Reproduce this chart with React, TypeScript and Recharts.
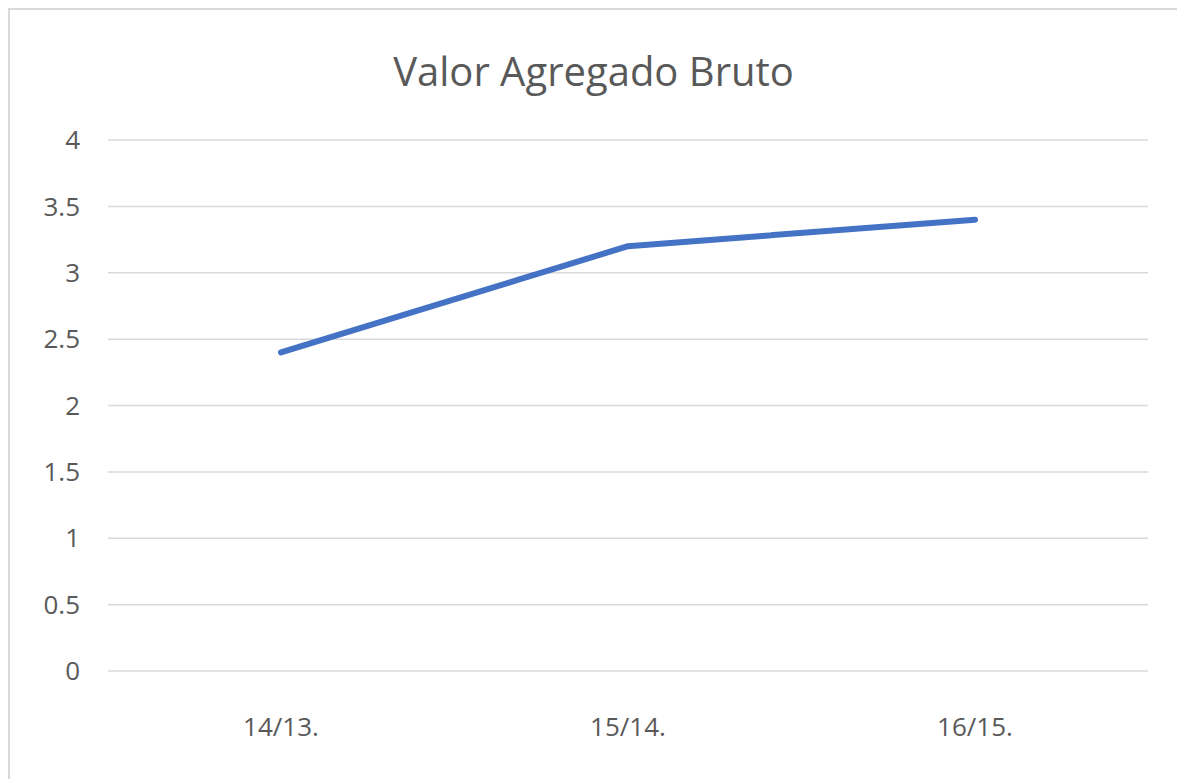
import { LineChart, Line, XAxis, YAxis, CartesianGrid } from 'recharts';

const periods = ['14/13.', '15/14.', '16/15.'];
const vabValues = [2.4, 3.2, 3.4];
const yTicks = [0, 0.5, 1, 1.5, 2, 2.5, 3, 3.5, 4];

const data = periods.map((p, i) => ({ period: p, value: vabValues[i] }));

const FONT = '"Open Sans", "Noto Sans", sans-serif';
const TEXT = '#595959';

export default function App() {
  return (
    <div
      style={{
        position: 'fixed',
        top: 8,
        left: 8,
        width: 1169,
        height: 771,
        boxSizing: 'border-box',
        borderLeft: '2px solid #d9d9d9',
        borderTop: '2px solid #d9d9d9',
        background: '#fff',
        fontFamily: FONT,
      }}
    >
      <div
        style={{
          position: 'absolute',
          top: 41,
          left: 0,
          width: '100%',
          textAlign: 'center',
          fontSize: 40,
          lineHeight: '40px',
          color: TEXT,
        }}
      >
        Valor Agregado Bruto
      </div>
      <LineChart width={1167} height={769} data={data} margin={{ top: 130, right: 29, bottom: 48, left: 0 }}>
        <CartesianGrid vertical={false} stroke="#d9d9d9" strokeWidth={1.5} />
        <XAxis
          dataKey="period"
          height={60}
          axisLine={false}
          tickLine={false}
          tickSize={0}
          tickMargin={47}
          padding={{ left: 173, right: 173 }}
          tick={{ fontSize: 26, fill: TEXT, fontFamily: FONT }}
        />
        <YAxis
          domain={[0, 4]}
          ticks={yTicks}
          width={98}
          axisLine={false}
          tickLine={false}
          tickSize={0}
          tickMargin={28}
          tick={{ fontSize: 26, fill: TEXT, fontFamily: FONT }}
        />
        <Line
          type="linear"
          dataKey="value"
          stroke="#4472c4"
          strokeWidth={6}
          strokeLinecap="round"
          strokeLinejoin="round"
          dot={false}
          activeDot={false}
          isAnimationActive={false}
        />
      </LineChart>
    </div>
  );
}
